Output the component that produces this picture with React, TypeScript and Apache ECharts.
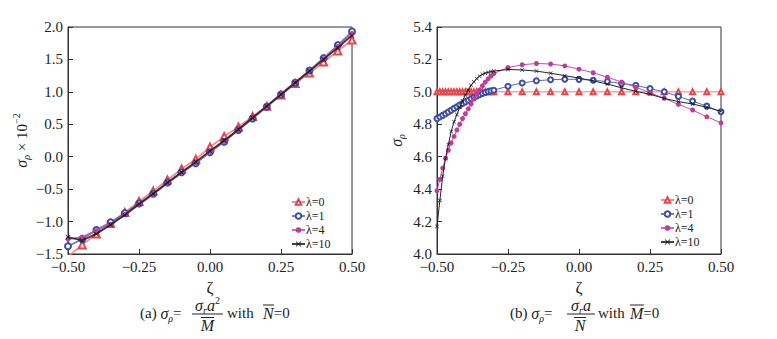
import React, { useEffect, useRef } from "react";
import * as echarts from "echarts";

const FONT = "'Liberation Serif', 'DejaVu Serif', serif";

const seriesNames = ["λ=0", "λ=1", "λ=4", "λ=10"];

// (a) left panel: ζ grid and σρ×10^-2 values
const xLeft = [-0.5, -0.45, -0.4, -0.35, -0.3, -0.25, -0.2, -0.15, -0.1, -0.05, 0, 0.05, 0.1, 0.15, 0.2, 0.25, 0.3, 0.35, 0.4, 0.45, 0.5];
const leftL0 = [-1.54, -1.36, -1.19, -1.03, -0.86, -0.69, -0.53, -0.36, -0.19, -0.04, 0.15, 0.31, 0.46, 0.62, 0.78, 0.95, 1.13, 1.29, 1.46, 1.63, 1.8];
const leftL1 = [-1.38, -1.27, -1.13, -1.01, -0.87, -0.72, -0.57, -0.4, -0.24, -0.1, 0.07, 0.23, 0.41, 0.59, 0.77, 0.96, 1.14, 1.33, 1.52, 1.72, 1.93];
const leftL4 = [-1.27, -1.24, -1.14, -1.04, -0.89, -0.74, -0.58, -0.41, -0.25, -0.09, 0.08, 0.24, 0.42, 0.6, 0.78, 0.97, 1.15, 1.32, 1.51, 1.7, 1.9];
const leftL10 = [-1.24, -1.29, -1.19, -1.05, -0.9, -0.73, -0.57, -0.4, -0.24, -0.08, 0.09, 0.25, 0.42, 0.6, 0.78, 0.96, 1.14, 1.32, 1.5, 1.68, 1.87];

// (b) right panel
const xRight = [-0.5, -0.49, -0.48, -0.47, -0.46, -0.45, -0.44, -0.43, -0.42, -0.41, -0.4, -0.39, -0.38, -0.37, -0.36, -0.35, -0.34, -0.33, -0.32, -0.31, -0.3,
  -0.25, -0.2, -0.15, -0.1, -0.05, 0, 0.05, 0.1, 0.15, 0.2, 0.25, 0.3, 0.35, 0.4, 0.45, 0.5];
const rightL0 = [5.0, 5.0, 5.0, 5.0, 5.0, 5.0, 5.0, 5.0, 5.0, 5.0, 5.0, 5.0, 5.0, 5.0, 5.0, 5.0, 5.0, 5.0, 5.0, 5.0, 5.0,
  5.0, 5.0, 5.0, 5.0, 5.0, 5.0, 5.0, 5.0, 5.0, 5.0, 5.0, 5.0, 5.0, 5.0, 5.0, 5.0];
const rightL1 = [4.835, 4.845, 4.855, 4.865, 4.876, 4.887, 4.898, 4.908, 4.918, 4.928, 4.938, 4.948, 4.957, 4.966, 4.975, 4.983, 4.99, 4.996, 5.002, 5.006, 5.01,
  5.035, 5.055, 5.068, 5.075, 5.078, 5.077, 5.072, 5.063, 5.052, 5.04, 5.02, 5.0, 4.972, 4.943, 4.912, 4.877];
const rightL4 = [4.39, 4.46, 4.53, 4.59, 4.64, 4.685, 4.725, 4.765, 4.8, 4.835, 4.865, 4.895, 4.925, 4.955, 4.985, 5.012, 5.038, 5.06, 5.08, 5.098, 5.113,
  5.15, 5.167, 5.175, 5.172, 5.16, 5.14, 5.118, 5.09, 5.06, 5.028, 4.995, 4.96, 4.923, 4.888, 4.846, 4.809];
const rightL10 = [4.17, 4.33, 4.48, 4.59, 4.675, 4.755, 4.815, 4.86, 4.905, 4.945, 4.98, 5.01, 5.04, 5.062, 5.082, 5.097, 5.108, 5.115, 5.12, 5.125, 5.128,
  5.138, 5.135, 5.128, 5.115, 5.1, 5.085, 5.068, 5.048, 5.025, 5.003, 4.985, 4.96, 4.94, 4.925, 4.905, 4.88];

const CROSS = "path://M1,0L5,4L9,0L10,1L6,5L10,9L9,10L5,6L1,10L0,9L4,5L0,1Z";
const styles = [
  { color: "#e8454a", line: "#f07a7e", symbol: "emptyTriangle", size: [7, 5] },
  { color: "#3d4ea6", line: "#5a69b8", symbol: "emptyCircle", size: [6, 5] },
  { color: "#c23a9c", line: "#c450a5", symbol: "circle", size: [5, 5] },
  { color: "#151515", line: "#222222", symbol: CROSS, size: [5, 4] },
];

function mkSeries(idx: number, xs: number[], ys: number[], axis: number, lw: number) {
  const s = styles[idx];
  return {
    type: "line",
    name: seriesNames[idx],
    xAxisIndex: axis,
    yAxisIndex: axis,
    data: xs.map((x, i) => [x, ys[i]]),
    symbol: s.symbol,
    symbolSize: s.size[axis],
    showAllSymbol: true,
    lineStyle: { color: s.line, width: lw, opacity: axis === 0 ? 0.85 : 1 },
    itemStyle: { color: s.color, borderWidth: 1.1 },
    emphasis: { disabled: true },
    z: 2 + idx,
  };
}

const fmt = (d: number) => (v: number) => v.toFixed(d).replace("-", "\u2212");

const RICH = {
  n: { fontFamily: FONT, fontSize: 15, color: "#222", lineHeight: 20 },
  i: { fontFamily: FONT, fontSize: 16, fontStyle: "italic", color: "#222", lineHeight: 20 },
  s: { fontFamily: FONT, fontSize: 10, fontStyle: "italic", color: "#222", lineHeight: 9, verticalAlign: "bottom" },
  p: { fontFamily: FONT, fontSize: 10, color: "#222", lineHeight: 9, verticalAlign: "top" },
};

function mkX(gridIndex: number) {
  return {
    type: "value",
    gridIndex,
    min: -0.5,
    max: 0.5,
    interval: 0.25,
    name: "ζ",
    nameLocation: "middle",
    nameGap: 22,
    nameTextStyle: { fontFamily: FONT, fontSize: 17, color: "#222" },
    axisLine: { show: true, onZero: false, lineStyle: { color: "#333", width: 1 } },
    axisTick: { show: true, inside: true, length: 5, lineStyle: { color: "#333" } },
    axisLabel: { fontFamily: FONT, fontSize: 15, color: "#222", margin: 5, formatter: fmt(2) },
    splitLine: { show: false },
  };
}

function mkY(gridIndex: number, min: number, max: number, interval: number, name: string, nameGap: number) {
  return {
    type: "value",
    gridIndex,
    min,
    max,
    interval,
    name,
    nameLocation: "middle",
    nameRotate: 90,
    nameGap,
    nameTextStyle: { fontFamily: FONT, fontSize: 15, color: "#222", rich: RICH },
    axisLine: { show: true, onZero: false, lineStyle: { color: "#333", width: 1 } },
    axisTick: { show: true, inside: true, length: 5, lineStyle: { color: "#333" } },
    axisLabel: { fontFamily: FONT, fontSize: 15, color: "#222", margin: 5, formatter: fmt(1) },
    splitLine: { show: false },
  };
}

function t(x: number, y: number, text: string, align = "left") {
  return {
    type: "text",
    x,
    y,
    silent: true,
    style: {
      text,
      rich: RICH,
      fontFamily: FONT,
      fontSize: 15,
      fill: "#222",
      align,
      verticalAlign: "middle",
    },
  };
}
function ln(x1: number, x2: number, y: number) {
  return { type: "line", silent: true, shape: { x1, y1: y, x2, y2: y }, style: { stroke: "#222", lineWidth: 1 } };
}

const legendCommon = {
  orient: "vertical",
  selectedMode: false,
  padding: 0,
  itemWidth: 13,
  itemHeight: 7,
  itemGap: 2,
  data: seriesNames,
  textStyle: { fontFamily: FONT, fontSize: 12, color: "#222", padding: [0, 0, 0, -4] },
};

export default function App() {
  const ref = useRef<HTMLDivElement>(null);
  useEffect(() => {
    if (!ref.current) return;
    const chart = echarts.init(ref.current, undefined, { renderer: "svg" });
    const leftData = [leftL0, leftL1, leftL4, leftL10];
    const rightData = [rightL0, rightL1, rightL4, rightL10];
    chart.setOption({
      animation: false,
      backgroundColor: "#fff",
      grid: [
        { left: 68, top: 27, width: 284, height: 227, show: true, borderColor: "#333", borderWidth: 1 },
        { left: 437, top: 27, width: 284, height: 227, show: true, borderColor: "#333", borderWidth: 1 },
      ],
      xAxis: [mkX(0), mkX(1)],
      yAxis: [
        mkY(0, -1.5, 2.0, 0.5, "{i|σ}{s|ρ}{n| × 10}{p|\u22122}", 34),
        mkY(1, 4.0, 5.4, 0.2, "{i|σ}{s|ρ}", 31),
      ],
      legend: [
        { ...legendCommon, left: 291, top: 196 },
        { ...legendCommon, left: 660, top: 194 },
      ],
      series: [
        ...leftData.map((d, i) => mkSeries(i, xLeft, d, 0, 1.8)),
        ...rightData.map((d, i) => mkSeries(i, xRight, d, 1, 1)),
      ],
      graphic: [
        // caption (a)
        t(140, 313, "{n|(a) }{i|σ}{s|ρ}{n|=}"),
        t(207.5, 305, "{i|σ}{s|r}{i|a}{p|2}", "center"),
        ln(192, 223, 314),
        t(207.5, 325, "{i|M}", "center"),
        ln(201, 214, 317.5),
        t(227, 313, "{n|with}"),
        t(263, 313, "{i|N}{n|=0}"),
        ln(263, 274, 305),
        // caption (b)
        t(510, 313, "{n|(b) }{i|σ}{s|ρ}{n|=}"),
        t(581, 305, "{i|σ}{s|r}{i|a}", "center"),
        ln(567, 595, 314),
        t(580, 325, "{i|N}", "center"),
        ln(574, 586, 317.5),
        t(598, 313, "{n|with}"),
        t(630, 313, "{i|M}{n|=0}"),
        ln(630, 644, 305),
      ],
    });
    return () => chart.dispose();
  }, []);
  return (
    <div
      ref={ref}
      style={{ position: "fixed", left: 0, top: 0, width: 777, height: 339, background: "#fff" }}
    />
  );
}
